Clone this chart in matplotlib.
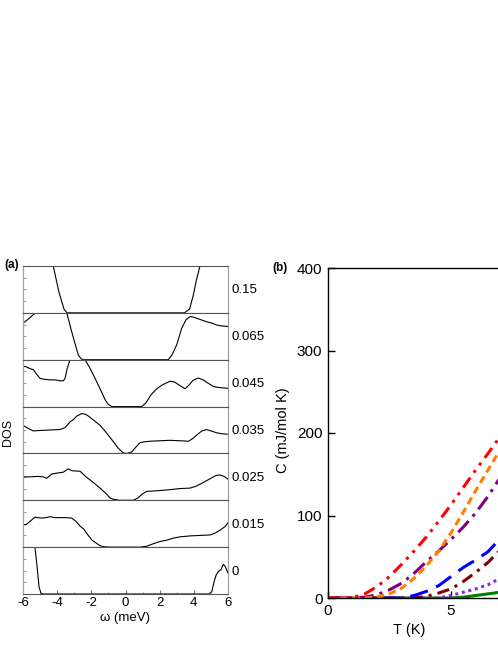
import numpy as np
import matplotlib
matplotlib.use("Agg")
import matplotlib.pyplot as plt

plt.rcParams['font.family'] = ['Liberation Sans', 'DejaVu Sans']

# =============================================================================
# Data: (a) DOS curves, value is fraction of the sub-panel height
# =============================================================================
gap_labels = ['0.15', '0.065', '0.045', '0.035', '0.025', '0.015', '0']

w_015 = [-6, -4.8, -4.23, -3.9, -3.6, -3.42, 3.45, 3.75, 3.97, 4.15, 4.36, 5, 6]
d_015 = [3, 1.8, 1.0, 0.45, 0.08, 0, 0, 0.08, 0.38, 0.7, 1.0, 2, 3]

w_0065 = [-6, -5.71, -5.4, -5.3, -4.4, -3.44, -3.15, -2.96, -2.76, -2.6, -2.47, 2.5, 2.72, 3.0,
          3.29, 3.54, 3.78, 3.97, 4.36, 4.75, 5.06, 5.34, 5.65, 6.0]
d_0065 = [0.78, 0.86, 0.96, 1.0, 1.6, 1.0, 0.6, 0.35, 0.1, 0.02, 0, 0, 0.1, 0.32,
          0.67, 0.85, 0.92, 0.91, 0.86, 0.81, 0.78, 0.74, 0.72, 0.71]

w_0045 = [-6, -5.82, -5.59, -5.4, -5.18, -5.0, -4.71, -4.42, -4.13, -3.83, -3.64, -3.54, -3.42,
          -3.25, -2.8, -2.37, -2.08, -1.78, -1.49, -1.2, -1.02, -0.79, 0.95, 1.2, 1.49, 1.83,
          2.14, 2.37, 2.6, 2.84, 3.09, 3.31, 3.48, 3.72, 3.95, 4.26, 4.54, 4.83, 5.14, 5.41,
          5.65, 6.0]
d_0045 = [0.86, 0.85, 0.81, 0.79, 0.68, 0.6, 0.58, 0.57, 0.57, 0.55, 0.55, 0.6, 0.8,
          1.0, 1.5, 1.0, 0.82, 0.6, 0.38, 0.15, 0.05, 0.0, 0.0, 0.08, 0.25, 0.38,
          0.46, 0.5, 0.54, 0.53, 0.47, 0.42, 0.38, 0.46, 0.56, 0.61, 0.57, 0.5, 0.43, 0.41,
          0.4, 0.39]

w_0035 = [-6, -5.77, -5.4, -5.0, -4.42, -3.83, -3.54, -3.25, -3.06, -2.84, -2.56, -2.37, -2.18,
          -1.9, -1.49, -1.14, -0.71, -0.44, -0.13, 0.09, 0.36, 0.62, 0.85, 1.14, 1.43, 2.02,
          2.6, 3.19, 3.68, 3.95, 4.19, 4.48, 4.75, 5.0, 5.34, 5.65, 6.0]
d_0035 = [0.6, 0.55, 0.48, 0.49, 0.5, 0.51, 0.55, 0.67, 0.72, 0.8, 0.85, 0.84, 0.8,
          0.72, 0.6, 0.45, 0.25, 0.12, 0.01, 0.0, 0.03, 0.14, 0.23, 0.25, 0.26, 0.27,
          0.28, 0.27, 0.26, 0.32, 0.4, 0.48, 0.51, 0.48, 0.44, 0.42, 0.41]

w_0025 = [-6, -5.59, -5.12, -4.81, -4.61, -4.32, -4.01, -3.64, -3.35, -3.13, -2.66, -2.31, -1.88,
          -1.49, -1.1, -0.91, -0.71, -0.32, 0.46, 0.73, 0.97, 1.24, 1.73, 2.41, 3.19, 3.78,
          4.13, 4.56, 4.95, 5.3, 5.53, 5.77, 6.0]
d_0025 = [0.5, 0.5, 0.51, 0.5, 0.47, 0.56, 0.58, 0.6, 0.67, 0.63, 0.62, 0.5, 0.38,
          0.26, 0.13, 0.05, 0.02, 0.0, 0.0, 0.05, 0.13, 0.19, 0.2, 0.22, 0.25, 0.26,
          0.3, 0.38, 0.46, 0.53, 0.54, 0.51, 0.45]

w_0015 = [-6, -5.82, -5.59, -5.3, -5.12, -4.9, -4.65, -4.42, -4.13, -3.83, -3.48, -3.15, -2.9,
          -2.66, -2.43, -2.18, -1.96, -1.69, -1.49, -1.3, -0.91, 0.85, 1.24, 1.61, 2.02, 2.43,
          2.78, 3.19, 3.78, 4.36, 4.95, 5.24, 5.53, 5.83, 6.0]
d_0015 = [0.48, 0.48, 0.55, 0.64, 0.63, 0.62, 0.63, 0.65, 0.63, 0.63, 0.63, 0.62, 0.55,
          0.45, 0.38, 0.25, 0.15, 0.08, 0.03, 0.01, 0.0, 0.0, 0.02, 0.07, 0.12, 0.15,
          0.19, 0.22, 0.24, 0.25, 0.26, 0.3, 0.36, 0.44, 0.52]

w_0 = [-6, -5.41, -5.3, -5.18, -5.06, -4.95, -4.83, 4.89, 5.05, 5.18, 5.3, 5.43, 5.59, 5.72,
       5.82, 5.87, 6.0]
d_0 = [3, 1.2, 1.0, 0.6, 0.15, 0.02, 0, 0, 0.05, 0.25, 0.4, 0.48, 0.52, 0.63,
       0.6, 0.56, 0.45]

dos_w = [w_015, w_0065, w_0045, w_0035, w_0025, w_0015, w_0]
dos_d = [d_015, d_0065, d_0045, d_0035, d_0025, d_0015, d_0]

# =============================================================================
# Data: (b) specific heat
# =============================================================================
T_red = [0, 1, 1.5, 2, 2.5, 3, 3.5, 4, 4.5, 5, 5.5, 6, 6.5, 7]
C_red = [0, 0.5, 5, 14, 26, 41, 57, 74, 93, 113, 134, 155, 175, 196]
T_orange = [0, 1.5, 2, 2.5, 3, 3.5, 4, 4.5, 5, 5.5, 6, 6.5, 7]
C_orange = [0, 0, 1.5, 5, 12, 24, 39, 57, 79, 104, 130, 155, 180]
T_purple = [0, 1, 1.5, 2, 2.5, 3, 3.5, 4, 4.5, 5, 5.5, 6, 6.5, 7]
C_purple = [0, 0, 1, 4, 10, 18, 30, 44, 57, 71, 86, 103, 123, 146]
T_blue = [0, 3, 3.5, 4, 4.5, 5, 5.5, 6, 6.5, 7]
C_blue = [0, 0, 3, 8, 15, 26, 37, 46, 56, 72]
T_maroon = [0, 3.5, 4, 4.5, 5, 5.5, 6, 6.5, 7]
C_maroon = [0, 0, 2, 6, 11, 20, 31, 43, 58]
T_violet = [0, 4.5, 5, 5.5, 6, 6.5, 7]
C_violet = [0, 0, 3, 7, 11, 16, 24]
T_green = [0, 5, 5.5, 6, 6.5, 7]
C_green = [0, 0, 1, 3, 5, 7]

# =============================================================================
# Figure
# =============================================================================
W, H = 498, 645
fig = plt.figure(figsize=(W / 100, H / 100), dpi=100)

# ---- panel (a): 7 stacked strips
a_left, a_right, a_top, a_bot = 23, 228, 266, 594
strip_h = (a_bot - a_top) / 7
for i in range(7):
    top_px = a_top + i * strip_h
    ax = fig.add_axes([a_left / W, 1 - (top_px + strip_h) / H,
                       (a_right - a_left) / W, strip_h / H])
    ax.plot(dos_w[i], dos_d[i], color='black', lw=0.8)
    ax.set_xlim(-6, 6)
    ax.set_ylim(0, 1)
    for s in ['left', 'right']:
        ax.spines[s].set_color('#a0a0a0')
        ax.spines[s].set_linewidth(0.9)
    for s in ['top', 'bottom']:
        ax.spines[s].set_color('#555555')
        ax.spines[s].set_linewidth(0.8)
    ax.set_yticks([0.25, 0.5, 0.75])
    ax.tick_params(axis='y', direction='in', length=2, color='#a0a0a0', labelleft=False)
    ax.set_xticks(np.arange(-6, 7, 2))
    ax.set_xticks(np.arange(-6, 7, 1), minor=True)
    if i < 6:
        ax.tick_params(axis='x', which='both', length=0, labelbottom=False)
    else:
        ax.tick_params(axis='x', which='major', direction='in', length=3, color='#777777',
                       labelsize=9.5, pad=2)
        ax.tick_params(axis='x', which='minor', direction='in', length=1.5, color='#999999')
        ax.set_xticklabels(['-6', '-4', '-2', '0', '2', '4', '6'])
    fig.text(231 / W, 1 - (top_px + strip_h / 2 + 1) / H, gap_labels[i],
             ha='left', va='center', fontsize=9.5)

fig.text(12 / W, 1 - 265 / H, '(a)', ha='center', va='center', fontsize=8.5, fontweight='bold')
fig.text(8 / W, 1 - 432 / H, 'DOS', ha='center', va='center', rotation=90, fontsize=9)
fig.text(125 / W, 1 - 618 / H, 'ω (meV)', ha='center', va='center', fontsize=9.5)

# ---- panel (b)
b_left, b_top, b_bot = 328, 268, 598
px_per_K = (451 - 328) / 5.0
axb = fig.add_axes([b_left / W, 1 - b_bot / H, 15 * px_per_K / W, (b_bot - b_top) / H])
axb.plot(T_green, C_green, color='#008000', lw=2.2, ls='-')
axb.plot(T_violet, C_violet, color='#8a2be2', lw=2.2, ls=(0, (1, 1.2)))
axb.plot(T_maroon, C_maroon, color='#800000', lw=2.2, ls=(0, (4, 2, 1, 2)))
axb.plot(T_blue, C_blue, color='#0000ff', lw=2.2, ls=(0, (6, 3)))
axb.plot(T_purple, C_purple, color='#800080', lw=2.2, ls=(0, (5, 2, 1, 2)))
axb.plot(T_orange, C_orange, color='#ff8000', lw=2.2, ls=(0, (2.5, 1.5)))
axb.plot(T_red, C_red, color='#ff0000', lw=2.2, ls=(0, (4, 2, 1, 2, 1, 2)))
axb.set_xlim(0, 15)
axb.set_ylim(0, 400)
axb.set_xticks([0, 5])
axb.set_yticks([0, 100, 200, 300, 400])
axb.tick_params(direction='in', length=5, width=1, labelsize=11, pad=4)
for s in axb.spines.values():
    s.set_linewidth(1.0)

fig.text(280 / W, 1 - 268 / H, '(b)', ha='center', va='center', fontsize=8.5, fontweight='bold')
fig.text(283 / W, 1 - 430 / H, 'C (mJ/mol K)', ha='center', va='center', rotation=90, fontsize=10.5)
fig.text(409 / W, 1 - 630 / H, 'T (K)', ha='center', va='center', fontsize=10.5)

fig.savefig('out.png', dpi=100)
